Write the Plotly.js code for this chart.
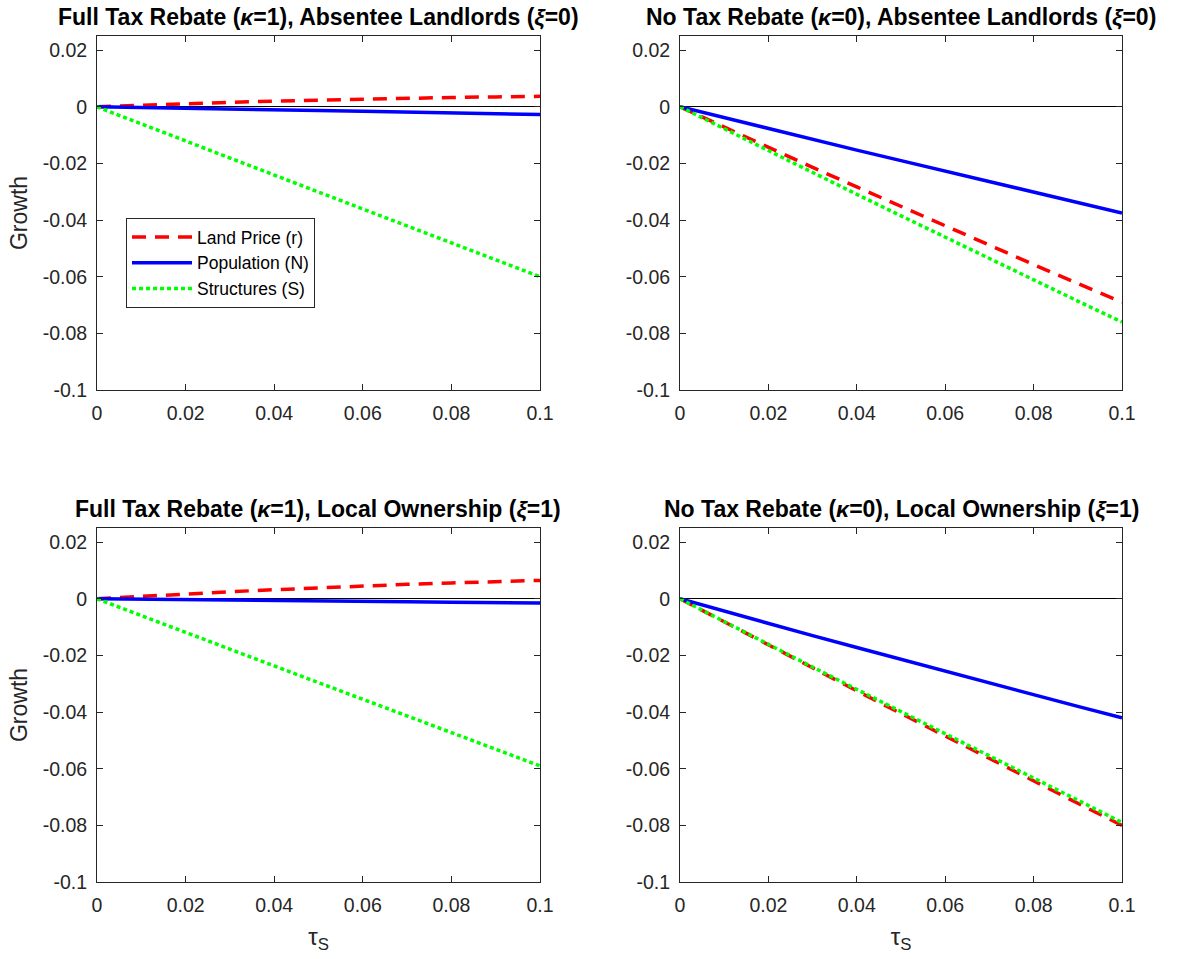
<!DOCTYPE html>
<html><head><meta charset="utf-8">
<script src="https://cdn.plot.ly/plotly-3.0.1.min.js"></script>
<style>body{margin:0;background:#fff}#c{width:1178px;height:959px}</style>
</head><body><div id="c"></div>
<script>
const tau = [0,0.01,0.02,0.03,0.04,0.05,0.06,0.07,0.08,0.09,0.1];
// Panel 1: Full rebate, absentee landlords
const p1Land = [0,0.0006,0.0011,0.0016,0.0020,0.0024,0.0027,0.0030,0.0033,0.0035,0.0037];
const p1Pop  = [0,-0.0002,-0.0005,-0.0008,-0.0011,-0.0013,-0.0016,-0.0019,-0.0022,-0.0024,-0.0027];
const p1Str  = [0,-0.0061,-0.0121,-0.0181,-0.0241,-0.0301,-0.0361,-0.0421,-0.0481,-0.0541,-0.0600];
// Panel 2: No rebate, absentee landlords
const p2Land = [0,-0.0072,-0.0143,-0.0214,-0.0283,-0.0352,-0.0421,-0.0489,-0.0557,-0.0624,-0.0690];
const p2Pop  = [0,-0.0039,-0.0078,-0.0116,-0.0153,-0.0190,-0.0227,-0.0264,-0.0301,-0.0338,-0.0375];
const p2Str  = [0,-0.0078,-0.0155,-0.0232,-0.0309,-0.0385,-0.0461,-0.0536,-0.0611,-0.0686,-0.0760];
// Panel 3: Full rebate, local ownership
const p3Land = [0,0.0009,0.0017,0.0025,0.0032,0.0039,0.0045,0.0051,0.0056,0.0061,0.0065];
const p3Pop  = [0,-0.0001,-0.0003,-0.0004,-0.0006,-0.0007,-0.0009,-0.0010,-0.0012,-0.0013,-0.0015];
const p3Str  = [0,-0.0060,-0.0119,-0.0178,-0.0237,-0.0296,-0.0355,-0.0414,-0.0472,-0.0531,-0.0590];
// Panel 4: No rebate, local ownership
const p4Land = [0,-0.0082,-0.0164,-0.0245,-0.0325,-0.0405,-0.0485,-0.0564,-0.0643,-0.0722,-0.0800];
const p4Pop  = [0,-0.0044,-0.0087,-0.0130,-0.0172,-0.0214,-0.0256,-0.0298,-0.0339,-0.0380,-0.0420];
const p4Str  = [0,-0.0081,-0.0161,-0.0241,-0.0320,-0.0399,-0.0477,-0.0555,-0.0633,-0.0711,-0.0790];

const seriesNames = ['Land Price (r)','Population (N)','Structures (S)'];
const titles = [
  'Full Tax Rebate (<i>κ</i>=1), Absentee Landlords (<i>ξ</i>=0)',
  'No Tax Rebate (<i>κ</i>=0), Absentee Landlords (<i>ξ</i>=0)',
  'Full Tax Rebate (<i>κ</i>=1), Local Ownership (<i>ξ</i>=1)',
  'No Tax Rebate (<i>κ</i>=0), Local Ownership (<i>ξ</i>=1)'
];
const xTicks = [0,0.02,0.04,0.06,0.08,0.1];
const xTickText = ['0','0.02','0.04','0.06','0.08','0.1'];
const yTicks = [0.02,0,-0.02,-0.04,-0.06,-0.08,-0.1];
const yTickText = ['0.02','0','-0.02','-0.04','-0.06','-0.08','-0.1'];

const panels = [[p1Land,p1Pop,p1Str],[p2Land,p2Pop,p2Str],[p3Land,p3Pop,p3Str],[p4Land,p4Pop,p4Str]];
const styles = [
  {color:'#ff0000', dash:'14px,9px', width:3.5},
  {color:'#0000ff', dash:'solid', width:3.5},
  {color:'#00ff00', dash:'4px,3px', width:3.5}
];
const W=1178,H=959;
const xdom = [[97/W,540/W],[680/W,1122/W]];
const ydom = [[1-390/H,1-36/H],[1-882/H,1-528/H]];

const traces=[];
panels.forEach((p,i)=>{
  const ax = i===0?'':String(i+1);
  p.forEach((ys,k)=>{
    traces.push({x:tau,y:ys,type:'scatter',mode:'lines',name:seriesNames[k],
      xaxis:'x'+ax,yaxis:'y'+ax,line:styles[k],showlegend:i===0});
  });
});

const layout={width:W,height:H,margin:{l:0,r:0,t:0,b:0},paper_bgcolor:'#fff',plot_bgcolor:'#fff',
  font:{family:'Liberation Sans, Arial, sans-serif',color:'#262626',size:19},
  showlegend:true,
  legend:{x:126/W,y:1-218/H,xanchor:'left',yanchor:'top',bgcolor:'#fff',bordercolor:'#262626',borderwidth:1,
    font:{size:17.5,color:'#000'},tracegroupgap:0,itemwidth:60},
  annotations:[]};
for(let i=0;i<4;i++){
  const ax = i===0?'':String(i+1);
  const col=i%2,row=Math.floor(i/2);
  layout['xaxis'+ax]={domain:xdom[col],range:[0,0.1],anchor:'y'+ax,tickvals:xTicks,ticktext:xTickText,
    ticks:'inside',ticklen:6,tickcolor:'#262626',mirror:'ticks',showline:true,linecolor:'#262626',linewidth:1,
    showgrid:false,zeroline:false,tickfont:{size:19.5,color:'#262626'},ticklabelstandoff:6,fixedrange:true,
    title: row===1?{text:'τ<sub>S</sub>',font:{size:24,color:'#262626'},standoff:12}:{text:''}};
  layout['yaxis'+ax]={domain:ydom[row],range:[-0.1,0.025],anchor:'x'+ax,tickvals:yTicks,ticktext:yTickText,
    ticks:'inside',ticklen:6,tickcolor:'#262626',mirror:'ticks',showline:true,linecolor:'#262626',linewidth:1,
    showgrid:false,zeroline:true,zerolinecolor:'#000',zerolinewidth:1,tickfont:{size:19.5,color:'#262626'},ticklabelstandoff:5,fixedrange:true,
    title: col===0?{text:'Growth',font:{size:23,color:'#262626'},standoff:8}:{text:''}};
  layout.annotations.push({text:'<b>'+titles[i]+'</b>',xref:'paper',yref:'paper',
    x:(xdom[col][0]+xdom[col][1])/2,y:ydom[row][1]+4/H,xanchor:'center',yanchor:'bottom',showarrow:false,
    font:{size:23,color:'#000'}});
}
Plotly.newPlot('c',traces,layout,{displayModeBar:false,staticPlot:true});
</script></body></html>
